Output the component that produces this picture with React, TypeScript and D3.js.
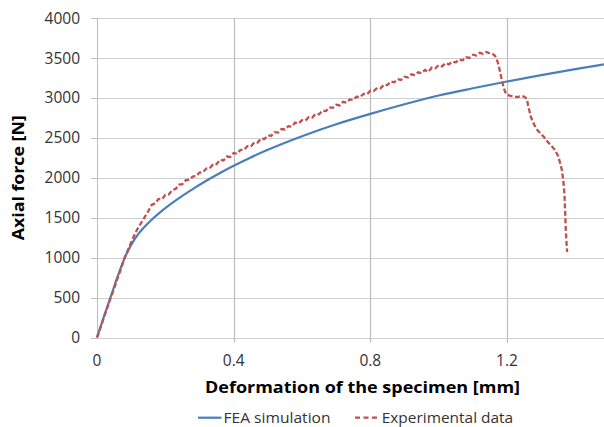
import React from "react";
import * as d3 from "d3";

const xTicks = [0, 0.4, 0.8, 1.2];
const yTicks = [0, 500, 1000, 1500, 2000, 2500, 3000, 3500, 4000];
const xTickLabels = ["0", "0.4", "0.8", "1.2"];

const seriesNames = ["FEA simulation", "Experimental data"];

const feaX = [0, 0.02, 0.04, 0.06, 0.08, 0.1, 0.12, 0.14, 0.16, 0.2, 0.24, 0.28, 0.32, 0.36, 0.4, 0.45, 0.5, 0.6, 0.7, 0.8, 0.9, 1.0, 1.1, 1.2, 1.3, 1.4, 1.5];
const feaY = [0, 258, 508, 758, 985, 1160, 1290, 1390, 1475, 1620, 1745, 1858, 1962, 2060, 2150, 2255, 2350, 2520, 2670, 2800, 2920, 3030, 3120, 3205, 3285, 3360, 3430];

const expX = [
  0, 0.01, 0.02, 0.03, 0.04, 0.05, 0.06, 0.07, 0.08, 0.09, 0.1, 0.11, 0.12, 0.13, 0.14, 0.15,
  0.16, 0.17, 0.18, 0.19, 0.2, 0.21, 0.22, 0.23, 0.24, 0.25, 0.26, 0.27, 0.28, 0.29,
  0.3, 0.31, 0.32, 0.33, 0.34, 0.35, 0.36, 0.37, 0.38, 0.39,
  0.4, 0.41, 0.42, 0.43, 0.44, 0.45, 0.46, 0.47, 0.48, 0.49,
  0.5, 0.51, 0.52, 0.53, 0.54, 0.55, 0.56, 0.57, 0.58, 0.59,
  0.6, 0.61, 0.62, 0.63, 0.64, 0.65, 0.66, 0.67, 0.68, 0.69,
  0.7, 0.71, 0.72, 0.73, 0.74, 0.75, 0.76, 0.77, 0.78, 0.79,
  0.8, 0.81, 0.82, 0.83, 0.84, 0.85, 0.86, 0.87, 0.88, 0.89,
  0.9, 0.91, 0.92, 0.93, 0.94, 0.95, 0.96, 0.97, 0.98, 0.99,
  1.0, 1.01, 1.02, 1.03, 1.04, 1.05, 1.06, 1.07, 1.08, 1.09,
  1.1, 1.11, 1.12, 1.13, 1.14, 1.15, 1.16, 1.165, 1.17, 1.175, 1.18, 1.185, 1.19, 1.195,
  1.2, 1.21, 1.22, 1.23, 1.24, 1.25, 1.258, 1.262, 1.27, 1.28, 1.29, 1.3, 1.31, 1.32, 1.33, 1.34,
  1.35, 1.36, 1.365, 1.368, 1.37, 1.372, 1.374, 1.376
];
const expY = [
  0, 120, 250, 370, 500, 610, 740, 860, 990, 1090, 1190, 1290, 1370, 1440, 1510, 1580,
  1660, 1680, 1735, 1730, 1785, 1790, 1845, 1860, 1915, 1920, 1970, 1975, 2015, 2020,
  2065, 2070, 2115, 2120, 2170, 2170, 2225, 2215, 2265, 2260,
  2310, 2300, 2350, 2350, 2395, 2390, 2440, 2440, 2490, 2485,
  2530, 2525, 2570, 2565, 2610, 2605, 2645, 2640, 2690, 2680,
  2720, 2715, 2760, 2755, 2800, 2795, 2840, 2835, 2880, 2875,
  2915, 2905, 2950, 2940, 2980, 2975, 3015, 3010, 3050, 3045,
  3090, 3085, 3125, 3120, 3165, 3160, 3205, 3195, 3235, 3225,
  3265, 3255, 3295, 3285, 3320, 3310, 3350, 3325, 3380, 3370,
  3410, 3395, 3435, 3420, 3455, 3445, 3480, 3470, 3510, 3500,
  3540, 3530, 3565, 3550, 3575, 3555, 3545, 3525, 3480, 3420, 3320, 3220, 3130, 3070,
  3040, 3025, 3020, 3010, 3020, 3015, 2990, 2900, 2760, 2660, 2590, 2550, 2500, 2445, 2400, 2350,
  2270, 2110, 1960, 1800, 1600, 1350, 1200, 1070
];

const W = 604;
const H = 427;
const left = 97;
const top = 18;
const bottom = 337.5;
const right = 609.5;

export default function App() {
  const x = d3.scaleLinear().domain([0, 1.5]).range([left, right]);
  const y = d3.scaleLinear().domain([0, 4000]).range([bottom, top]);

  const fea = feaX.map((v, i) => [v, feaY[i]] as [number, number]);
  const exp = expX.map((v, i) => [v, expY[i]] as [number, number]);

  const feaLine = d3
    .line<[number, number]>()
    .x((d) => x(d[0]))
    .y((d) => y(d[1]))
    .curve(d3.curveMonotoneX);
  const expLine = d3
    .line<[number, number]>()
    .x((d) => x(d[0]))
    .y((d) => y(d[1]));

  const font = "'Open Sans', 'Liberation Sans', sans-serif";

  return (
    <svg
      width={W}
      height={H}
      style={{ position: "absolute", left: 0, top: 0, background: "#fff" }}
      fontFamily={font}
    >
      <rect x={0} y={0} width={W} height={H} fill="#fff" />
      {yTicks.map((t) => (
        <g key={"h" + t}>
          <line x1={left} x2={W} y1={Math.round(y(t)) + 0.5} y2={Math.round(y(t)) + 0.5} stroke="#cfcfcf" strokeWidth={1.2} />
          <line x1={left - 6} x2={left} y1={Math.round(y(t)) + 0.5} y2={Math.round(y(t)) + 0.5} stroke="#bdbdbd" strokeWidth={1} />
          <text x={80} y={y(t)} dy="0.36em" textAnchor="end" fontSize={15.5} fill="#333">
            {t}
          </text>
        </g>
      ))}
      {xTicks.map((t, i) => (
        <g key={"v" + t}>
          {t > 0 && (
            <line x1={Math.round(x(t)) + 0.5} x2={Math.round(x(t)) + 0.5} y1={top} y2={bottom + 5} stroke="#bdbdbd" strokeWidth={1.2} />
          )}
          <text x={x(t)} y={366} textAnchor="middle" fontSize={15.5} fill="#333">
            {xTickLabels[i]}
          </text>
        </g>
      ))}
      <line x1={left + 0.5} x2={left + 0.5} y1={top} y2={bottom} stroke="#bdbdbd" strokeWidth={1} />

      <path d={feaLine(fea) || ""} fill="none" stroke="#4a7ebb" strokeWidth={2.2} />
      <path d={expLine(exp) || ""} fill="none" stroke="#c0504d" strokeWidth={2.3} strokeDasharray="5,2.5" />

      <text x={362.5} y={393} textAnchor="middle" fontSize={16.5} fontWeight="bold" fill="#000" textLength={315} lengthAdjust="spacingAndGlyphs">
        Deformation of the specimen [mm]
      </text>
      <text transform={`translate(24, ${(top + bottom) / 2}) rotate(-90)`} textAnchor="middle" fontSize={16.5} fontWeight="bold" fill="#000" textLength={125} lengthAdjust="spacingAndGlyphs">
        Axial force [N]
      </text>

      <line x1={198} x2={221.5} y1={417.7} y2={417.7} stroke="#4a7ebb" strokeWidth={2.2} />
      <text x={223.5} y={422.5} fontSize={14} fill="#333" textLength={107} lengthAdjust="spacingAndGlyphs">
        {seriesNames[0]}
      </text>
      <line x1={355} x2={378.5} y1={417.7} y2={417.7} stroke="#c0504d" strokeWidth={2.2} strokeDasharray="5,3.5" />
      <text x={381.7} y={422.5} fontSize={14} fill="#333" textLength={131.5} lengthAdjust="spacingAndGlyphs">
        {seriesNames[1]}
      </text>
    </svg>
  );
}
